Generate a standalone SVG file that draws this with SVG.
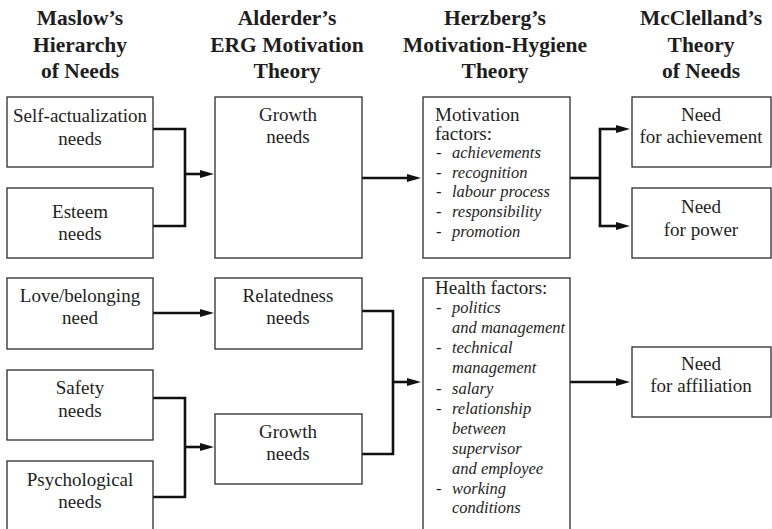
<svg xmlns="http://www.w3.org/2000/svg" width="772" height="529" viewBox="0 0 772 529">
<style>
.box{fill:#fff;stroke:#2b2b2b;stroke-width:1.3}
.h{font-family:"Liberation Serif","Times New Roman",serif;font-weight:bold;font-size:21.5px;fill:#1e1e1e;text-anchor:middle}
.t{font-family:"Liberation Serif","Times New Roman",serif;font-size:19px;fill:#1e1e1e;text-anchor:middle}
.l{font-family:"Liberation Serif","Times New Roman",serif;font-size:19px;fill:#1e1e1e}
.i{font-family:"Liberation Serif","Times New Roman",serif;font-size:16.5px;font-style:italic;fill:#1e1e1e}
.d{font-family:"Liberation Serif","Times New Roman",serif;font-size:16.5px;fill:#1e1e1e}
.c{fill:none;stroke:#111;stroke-width:2.6;stroke-linejoin:miter}
.a{fill:none;stroke:#111;stroke-width:2.6;marker-end:url(#arr)}
</style>
<defs>
<marker id="arr" markerUnits="userSpaceOnUse" markerWidth="14" markerHeight="8" viewBox="0 0 14 8" refX="6" refY="4" orient="auto">
<path d="M0,0 L14,4 L0,8 z" fill="#111"/>
</marker>
</defs>
<g id="headers">
<text class="h" x="80" y="25">Maslow’s</text>
<text class="h" x="80" y="52">Hierarchy</text>
<text class="h" x="80" y="78">of Needs</text>
<text class="h" x="287" y="25">Alderder’s</text>
<text class="h" x="287" y="52">ERG Motivation</text>
<text class="h" x="287" y="78">Theory</text>
<text class="h" x="495" y="25">Herzberg’s</text>
<text class="h" x="495" y="52">Motivation-Hygiene</text>
<text class="h" x="495" y="78">Theory</text>
<text class="h" x="701" y="25">McClelland’s</text>
<text class="h" x="701" y="52">Theory</text>
<text class="h" x="701" y="78">of Needs</text>
</g>
<g id="connectors">
<path class="c" d="M153,129 H185 V226 H153"/>
<path class="a" d="M185,174 H206"/>
<path class="a" d="M362,178 H413"/>
<path class="c" d="M570,178 H600"/>
<path class="c" d="M600,129 V226"/>
<path class="a" d="M598.7,129 H622"/>
<path class="a" d="M598.7,226 H622"/>
<path class="a" d="M153,313 H206"/>
<path class="c" d="M153,398 H185 V497 H153"/>
<path class="a" d="M185,447 H206"/>
<path class="c" d="M362,311 H393 V454 H362"/>
<path class="a" d="M393,382 H413"/>
<path class="a" d="M570,382 H622"/>
</g>
<g id="self-actualization">
<rect class="box" x="7" y="97" width="146" height="70"/>
<text class="t" x="80" y="122">Self-actualization</text>
<text class="t" x="80" y="145">needs</text>
</g>
<g id="esteem">
<rect class="box" x="7" y="188" width="146" height="70"/>
<text class="t" x="80" y="218">Esteem</text>
<text class="t" x="80" y="240">needs</text>
</g>
<g id="love">
<rect class="box" x="7" y="278" width="146" height="71"/>
<text class="t" x="80" y="302">Love/belonging</text>
<text class="t" x="80" y="324">need</text>
</g>
<g id="safety">
<rect class="box" x="7" y="370" width="146" height="70"/>
<text class="t" x="80" y="394">Safety</text>
<text class="t" x="80" y="417">needs</text>
</g>
<g id="psychological">
<rect class="box" x="7" y="461" width="146" height="80"/>
<text class="t" x="80" y="486">Psychological</text>
<text class="t" x="80" y="508">needs</text>
</g>
<g id="growth-top">
<rect class="box" x="215" y="97" width="147" height="161"/>
<text class="t" x="288" y="121">Growth</text>
<text class="t" x="288" y="143">needs</text>
</g>
<g id="relatedness">
<rect class="box" x="215" y="278" width="147" height="71"/>
<text class="t" x="288" y="302">Relatedness</text>
<text class="t" x="288" y="324">needs</text>
</g>
<g id="growth-bottom">
<rect class="box" x="215" y="414" width="147" height="70"/>
<text class="t" x="288" y="438">Growth</text>
<text class="t" x="288" y="460">needs</text>
</g>
<g id="motivation">
<rect class="box" x="423" y="97" width="147" height="161"/>
<text class="l" x="435" y="121">Motivation</text>
<text class="l" x="435" y="140">factors:</text>
<text class="d" x="436" y="158">-</text><text class="i" x="452" y="158">achievements</text>
<text class="d" x="436" y="178">-</text><text class="i" x="452" y="178">recognition</text>
<text class="d" x="436" y="197">-</text><text class="i" x="452" y="197">labour process</text>
<text class="d" x="436" y="217">-</text><text class="i" x="452" y="217">responsibility</text>
<text class="d" x="436" y="237">-</text><text class="i" x="452" y="237">promotion</text>
</g>
<g id="health">
<rect class="box" x="423" y="278" width="147" height="270"/>
<text class="l" x="435" y="294">Health factors:</text>
<text class="d" x="436" y="313">-</text><text class="i" x="452" y="313">politics</text>
<text class="i" x="452" y="333">and management</text>
<text class="d" x="436" y="353">-</text><text class="i" x="452" y="353">technical</text>
<text class="i" x="452" y="373">management</text>
<text class="d" x="436" y="394">-</text><text class="i" x="452" y="394">salary</text>
<text class="d" x="436" y="414">-</text><text class="i" x="452" y="414">relationship</text>
<text class="i" x="452" y="434">between</text>
<text class="i" x="452" y="454">supervisor</text>
<text class="i" x="452" y="474">and employee</text>
<text class="d" x="436" y="494">-</text><text class="i" x="452" y="494">working</text>
<text class="i" x="452" y="513">conditions</text>
</g>
<g id="achievement">
<rect class="box" x="632" y="97" width="139" height="70"/>
<text class="t" x="701" y="121">Need</text>
<text class="t" x="701" y="143">for achievement</text>
</g>
<g id="power">
<rect class="box" x="632" y="188" width="139" height="70"/>
<text class="t" x="701" y="213">Need</text>
<text class="t" x="701" y="236">for power</text>
</g>
<g id="affiliation">
<rect class="box" x="632" y="347" width="139" height="70"/>
<text class="t" x="701" y="370">Need</text>
<text class="t" x="701" y="392">for affiliation</text>
</g>
</svg>
